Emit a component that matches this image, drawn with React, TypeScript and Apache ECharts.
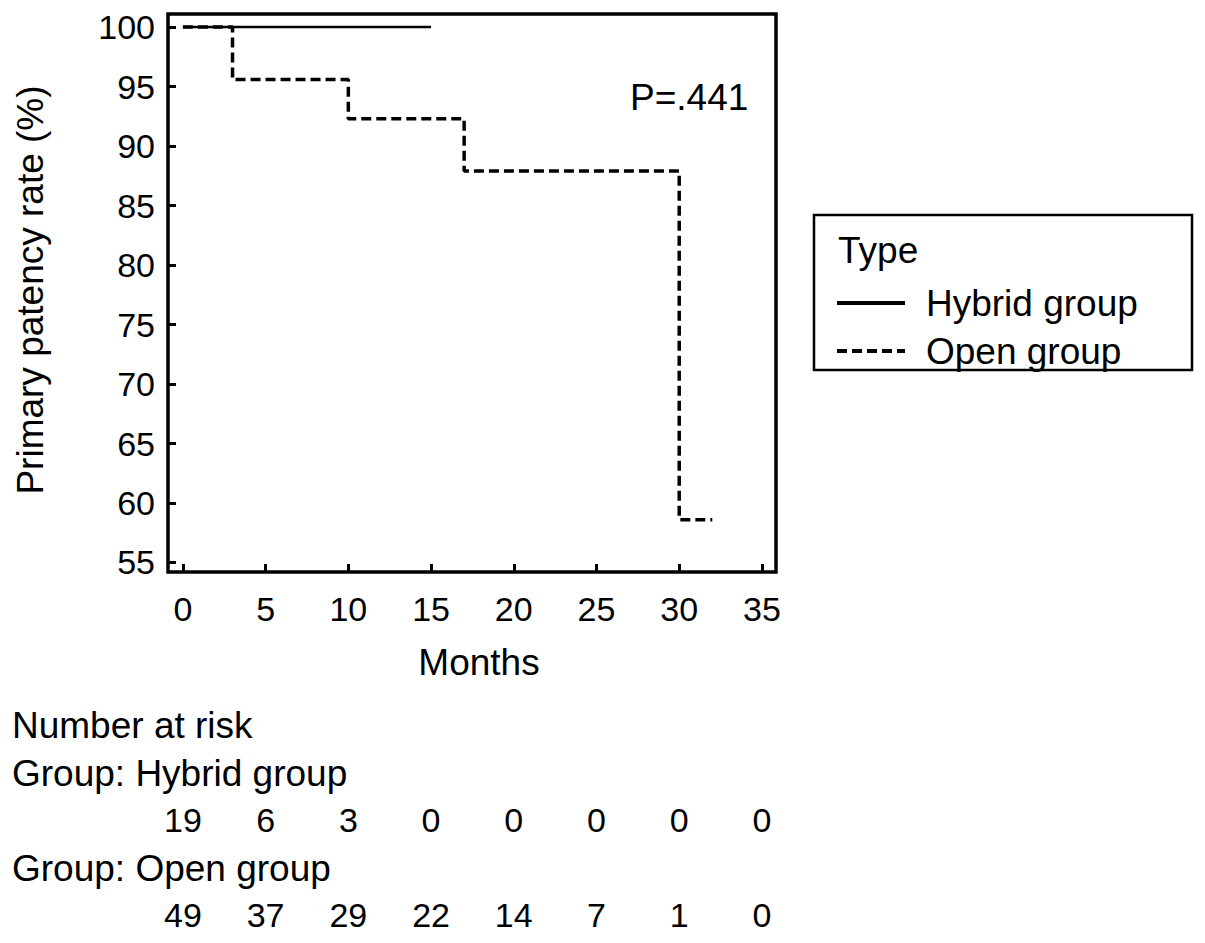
import React, { useEffect, useRef } from "react";
import * as echarts from "echarts";

const hybridTimes = [0, 15];
const hybridSurv = [100, 100];
const openTimes = [0, 3, 10, 17, 30, 32];
const openSurv = [100, 95.6, 92.3, 87.9, 58.6, 58.6];
const xTicks = [0, 5, 10, 15, 20, 25, 30, 35];
const yTicks = [55, 60, 65, 70, 75, 80, 85, 90, 95, 100];
const riskTimes = [0, 5, 10, 15, 20, 25, 30, 35];
const riskHybrid = [19, 6, 3, 0, 0, 0, 0, 0];
const riskOpen = [49, 37, 29, 22, 14, 7, 1, 0];
const seriesNames = ["Hybrid group", "Open group"];
const pText = "P=.441";

const FONT = "'Liberation Sans', Arial, sans-serif";
const FS = 37;
const FN = 34;

export default function App() {
  const ref = useRef<HTMLDivElement>(null);
  useEffect(() => {
    document.body.style.margin = "0";
    const chart = echarts.init(ref.current!, null, { renderer: "svg" });
    const option: any = {
      animation: false,
      backgroundColor: "#fff",
      textStyle: { fontFamily: FONT, color: "#000" },
      grid: {
        left: 168,
        top: 14,
        width: 608,
        height: 558,
        show: true,
        borderColor: "#000",
        borderWidth: 3.5,
        containLabel: false,
      },
      xAxis: {
        type: "value",
        min: -0.9,
        max: 35.85,
        axisLine: { show: false, onZero: false },
        splitLine: { show: false },
        axisTick: {
          show: true,
          inside: true,
          length: 8,
          lineStyle: { color: "#000", width: 3 },
          customValues: xTicks,
        },
        axisLabel: {
          customValues: xTicks,
          fontSize: FN,
          fontFamily: FONT,
          color: "#000",
          margin: 20,
        },
      },
      yAxis: {
        type: "value",
        min: 54.2,
        max: 101.1,
        axisLine: { show: false, onZero: false },
        splitLine: { show: false },
        axisTick: {
          show: true,
          inside: true,
          length: 8,
          lineStyle: { color: "#000", width: 3 },
          customValues: yTicks,
        },
        axisLabel: {
          customValues: yTicks,
          fontSize: FN,
          fontFamily: FONT,
          color: "#000",
          margin: 13,
        },
      },
      legend: {
        left: 830,
        top: 278,
        orient: "vertical",
        itemWidth: 68,
        itemHeight: 14,
        itemGap: 8,
        data: seriesNames,
        itemStyle: { color: "rgba(0,0,0,0)", borderWidth: 0 },
        lineStyle: { width: 4 },
        textStyle: {
          fontSize: FS,
          fontFamily: FONT,
          color: "#000",
          padding: [0, 0, 0, 16],
          lineHeight: 40,
        },
      },
      series: [
        {
          name: seriesNames[0],
          type: "line",
          step: "end",
          symbol: "none",
          lineStyle: { color: "#000", width: 2.5 },
          itemStyle: { color: "#000" },
          data: hybridTimes.map((t, i) => [t, hybridSurv[i]]),
        },
        {
          name: seriesNames[1],
          type: "line",
          step: "end",
          symbol: "none",
          lineStyle: { color: "#000", width: 3.5, type: [10, 5] },
          itemStyle: { color: "#000" },
          data: openTimes.map((t, i) => [t, openSurv[i]]),
        },
      ],
    };
    chart.setOption(option);

    const px = (t: number) => chart.convertToPixel({ xAxisIndex: 0 }, t) as number;
    const txt = (text: string, x: number, y: number, size: number, align = "left", rotation = 0) => ({
      type: "text",
      x,
      y,
      rotation,
      style: { text, fontSize: size, fontFamily: FONT, fill: "#000", align, verticalAlign: "middle" },
    });
    const graphics: any[] = [
      txt("Primary patency rate (%)", 30, 290, FS, "center", Math.PI / 2),
      txt("Months", 479, 662, FS, "center"),
      txt(pText, 630, 97, FS, "left"),
      {
        type: "rect",
        shape: { x: 814, y: 215, width: 378, height: 155 },
        style: { fill: "none", stroke: "#000", lineWidth: 2.5 },
      },
      txt("Type", 838, 250, FS, "left"),
      txt("Number at risk", 12, 725, FS, "left"),
      txt("Group: Hybrid group", 12, 773, FS, "left"),
      txt("Group: Open group", 12, 868, FS, "left"),
    ];
    riskTimes.forEach((t, i) => {
      graphics.push(txt(String(riskHybrid[i]), px(t), 820, FN, "center"));
      graphics.push(txt(String(riskOpen[i]), px(t), 915, FN, "center"));
    });
    chart.setOption({ graphic: graphics });
    return () => chart.dispose();
  }, []);
  return <div ref={ref} style={{ width: 1205, height: 943 }} />;
}
